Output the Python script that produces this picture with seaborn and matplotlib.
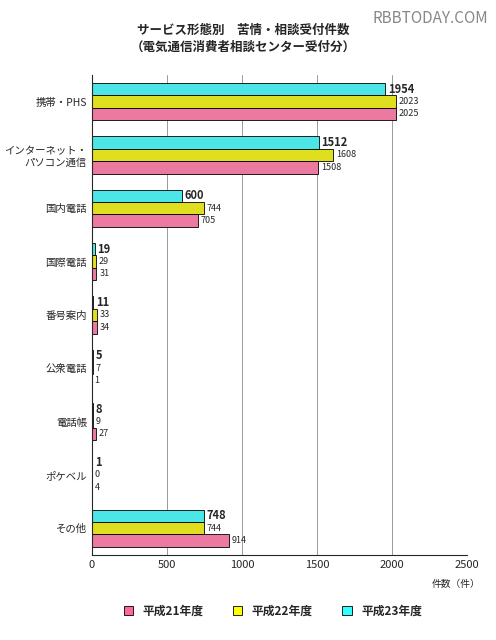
import numpy as np
import pandas as pd
import matplotlib
matplotlib.use('Agg')
import matplotlib.pyplot as plt
import seaborn as sns

sns.set_style('white')
plt.rcParams['font.family'] = ['Noto Sans CJK JP', 'DejaVu Sans']

# データ
categories = ['携帯・PHS', 'インターネット・\nパソコン通信', '国内電話', '国際電話', '番号案内',
              '公衆電話', '電話帳', 'ポケベル', 'その他']
series = ['平成23年度', '平成22年度', '平成21年度']
h23 = [1954, 1512, 600, 19, 11, 5, 8, 1, 748]
h22 = [2023, 1608, 744, 29, 33, 7, 9, 0, 744]
h21 = [2025, 1508, 705, 31, 34, 1, 27, 4, 914]
colors = ['#33FFFF', '#FFFF00', '#FF6699']

df = pd.DataFrame({'cat': categories * 3,
                   'year': np.repeat(series, len(categories)),
                   'val': h23 + h22 + h21})

fig = plt.figure(figsize=(4.96, 6.4), dpi=100)
ax = fig.add_axes([0.185, 0.133, 0.757, 0.75])
sns.barplot(data=df, y='cat', x='val', hue='year', hue_order=series,
            palette=colors, orient='h', width=0.7, edgecolor='black',
            linewidth=0.6, ax=ax, legend=False)

ax.set_xlim(0, 2500)
ax.set_xticks(range(0, 2501, 500))
ax.xaxis.grid(True, color='#999999', linewidth=0.7)
ax.set_axisbelow(True)
ax.set_xlabel('')
ax.set_ylabel('')
ax.tick_params(axis='x', labelsize=8, length=0)
ax.tick_params(axis='y', labelsize=7.5, length=0)
for s in ['top', 'right']:
    ax.spines[s].set_visible(False)
ax.spines['left'].set_linewidth(0.8)
ax.spines['bottom'].set_linewidth(0.8)

for i, cont in enumerate(ax.containers):
    ax.bar_label(cont, padding=2, fontsize=8 if i == 0 else 6.5,
                 fontweight='bold' if i == 0 else 'normal')

fig.text(0.49, 0.94, 'サービス形態別　苦情・相談受付件数\n（電気通信消費者相談センター受付分）',
         ha='center', va='center', fontsize=9, fontweight='bold', linespacing=1.4)
fig.text(0.985, 0.985, 'RBBTODAY.COM', ha='right', va='top', fontsize=11, color='#888888')
fig.text(0.92, 0.083, '件数（件）', ha='center', fontsize=7)

handles = [plt.Rectangle((0, 0), 1, 1, facecolor=c, edgecolor='black', linewidth=0.6)
           for c in colors[::-1]]
fig.legend(handles, series[::-1], loc='center', bbox_to_anchor=(0.55, 0.045), ncol=3,
           frameon=False, handlelength=0.8, handleheight=0.8,
           columnspacing=2.5, prop={'weight': 'bold', 'size': 8.5})

fig.savefig('out.png', dpi=100)
